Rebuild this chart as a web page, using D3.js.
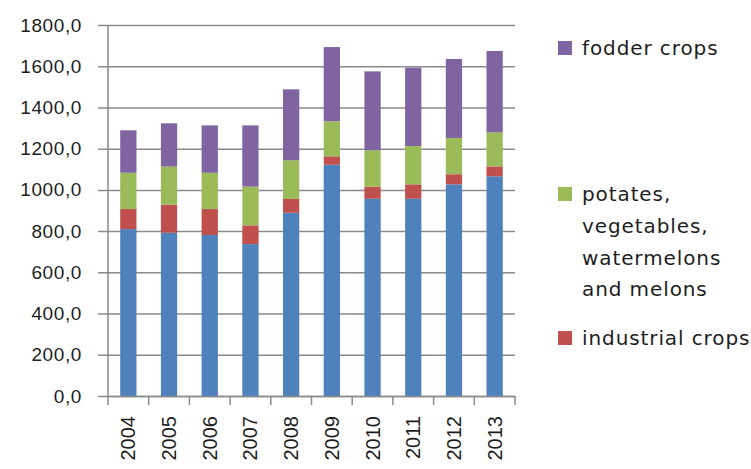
<!DOCTYPE html>
<html>
<head>
<meta charset="utf-8">
<script src="https://cdn.jsdelivr.net/npm/d3@7/dist/d3.min.js"></script>
<style>
  html, body { margin: 0; padding: 0; background: #ffffff; }
  svg { display: block; font-family: "DejaVu Sans", Verdana, sans-serif; }
</style>
</head>
<body>
<svg id="chart" width="751" height="469"></svg>
<script>
// Sown area by crop group, stacked per year
const years = ["2004", "2005", "2006", "2007", "2008", "2009", "2010", "2011", "2012", "2013"];
const grainCrops      = [810, 792, 781, 737, 889, 1122, 957, 957, 1027, 1066];
const industrialCrops = [97, 136, 126, 91, 67, 41, 59, 70, 49, 48];
const potatoesVeg     = [176, 185, 176, 188, 188, 170, 176, 186, 176, 165];
const fodderCrops     = [206, 210, 230, 297, 344, 360, 383, 380, 383, 395];
const yTicks = [0, 200, 400, 600, 800, 1000, 1200, 1400, 1600, 1800];

const seriesDefs = [
  { key: "grain", name: "grain crops", values: grainCrops, color: "#4F81BD" },
  { key: "industrial", name: "industrial crops", values: industrialCrops, color: "#C0504D" },
  { key: "potatoes", name: "potates, vegetables, watermelons and melons", values: potatoesVeg, color: "#9BBB59" },
  { key: "fodder", name: "fodder crops", values: fodderCrops, color: "#8064A2" }
];

const rows = years.map((y, i) => {
  const r = { year: y };
  seriesDefs.forEach(s => { r[s.key] = s.values[i]; });
  return r;
});

const svg = d3.select("#chart");
const plot = { left: 108, right: 515, top: 25, bottom: 396 };
const gridColor = "#8a8a8a";
const textColor = "#1e1e1e";

const x = d3.scaleBand().domain(years)
  .range([plot.left, plot.right]).paddingInner(0.6).paddingOuter(0.3);
const y = d3.scaleLinear().domain([0, 1800]).range([plot.bottom, plot.top]);

const fmt = v => d3.format(".1f")(v).replace(".", ",");

// horizontal gridlines with left tick marks
const yAxis = d3.axisLeft(y).tickValues(yTicks).tickFormat(fmt)
  .tickSize(-(plot.right - plot.left)).tickSizeOuter(0).tickPadding(26);
const gy = svg.append("g").attr("transform", `translate(${plot.left},0)`).call(yAxis);
gy.select(".domain").remove();
gy.selectAll(".tick line").attr("x1", -10).attr("stroke", gridColor).attr("stroke-width", 1.5);
gy.selectAll(".tick text").attr("font-size", 19).attr("letter-spacing", 0.6).attr("fill", textColor);

// stacked bars
const stack = d3.stack().keys(seriesDefs.map(s => s.key));
const layers = stack(rows);
svg.append("g").selectAll("g").data(layers).join("g")
  .attr("fill", (d, i) => seriesDefs[i].color)
  .selectAll("rect").data(d => d).join("rect")
  .attr("x", d => x(d.data.year))
  .attr("width", x.bandwidth())
  .attr("y", d => y(d[1]))
  .attr("height", d => y(d[0]) - y(d[1]));

// vertical axis line
svg.append("line")
  .attr("x1", plot.left).attr("x2", plot.left)
  .attr("y1", plot.top).attr("y2", plot.bottom)
  .attr("stroke", gridColor).attr("stroke-width", 1.5);

// category axis
const xAxis = d3.axisBottom(x).tickSize(0).tickSizeOuter(0);
const gx = svg.append("g").attr("transform", `translate(0,${plot.bottom})`).call(xAxis);
gx.select(".domain").attr("stroke", gridColor).attr("stroke-width", 1.5);
gx.selectAll(".tick text")
  .attr("font-size", 20).attr("fill", textColor)
  .attr("transform", "rotate(-90)")
  .attr("text-anchor", "end")
  .attr("x", -20).attr("y", 0).attr("dy", "0.35em");
// tick marks between categories
const bounds = d3.range(years.length + 1).map(i => plot.left + i * x.step());
gx.selectAll("line.sep").data(bounds).join("line").attr("class", "sep")
  .attr("x1", d => d).attr("x2", d => d).attr("y1", 0).attr("y2", 9)
  .attr("stroke", gridColor).attr("stroke-width", 1.5);

// legend
const legendItems = [
  { s: seriesDefs[3], lines: ["fodder crops"], cy: 48 },
  { s: seriesDefs[2], lines: ["potates,", "vegetables,", "watermelons", "and melons"], cy: 194 },
  { s: seriesDefs[1], lines: ["industrial crops"], cy: 338 }
];
const lg = svg.append("g");
legendItems.forEach(item => {
  lg.append("rect").attr("x", 558).attr("y", item.cy - 7)
    .attr("width", 14).attr("height", 14).attr("fill", item.s.color);
  const t = lg.append("text").attr("x", 582).attr("y", item.cy)
    .attr("font-size", 20).attr("letter-spacing", 0.9).attr("fill", textColor);
  item.lines.forEach((ln, i) => {
    t.append("tspan").attr("x", 582).attr("dy", i === 0 ? "0.35em" : 31.8).text(ln);
  });
});
</script>
</body>
</html>
